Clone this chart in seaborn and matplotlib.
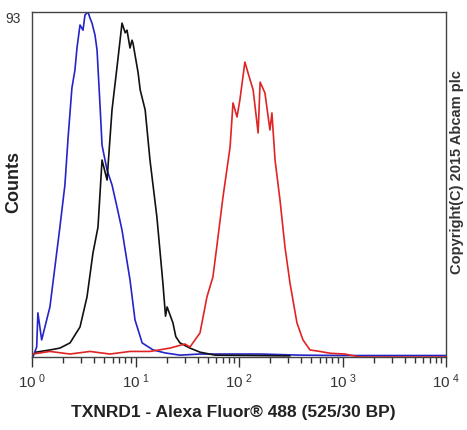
import numpy as np
import pandas as pd
import matplotlib
matplotlib.use('Agg')
import matplotlib.pyplot as plt
import seaborn as sns
from matplotlib.ticker import FixedLocator, LogLocator, NullFormatter

# Histogram traces (fluorescence intensity, counts)
blue_x = [1.02, 1.11, 1.14, 1.24, 1.49, 1.86, 2.08, 2.23, 2.43, 2.60, 2.72, 2.91,
          3.11, 3.25, 3.48, 3.63, 3.80, 4.06, 4.25, 4.54, 4.75, 5.31, 5.93, 6.63,
          7.41, 8.09, 8.85, 9.89, 11.6, 14.8, 19.3, 26.9, 42, 160, 389, 1000,
          3000, 10000]
blue_y = [0, 2.7, 11.9, 4.6, 13.5, 35, 46.4, 59, 72.5, 77.4, 83.3, 89.5,
          88.1, 92.2, 93, 91.4, 90, 86.8, 82.8, 67.9, 57.1, 50.4, 46.4, 40.4,
          34.2, 27.5, 20.8, 10, 3.8, 1.9, 1.1, 0.5, 0.8, 0.8, 0.5, 0.4,
          0.4, 0.4]

black_x = [1.09, 1.49, 1.86, 2.33, 2.91, 3.40, 3.88, 4.34, 4.75, 5.31, 5.93, 6.63,
           7.41, 7.95, 8.28, 8.85, 9.25, 9.46, 10.6, 11.1, 12.4, 13.8, 16.1, 18.4,
           19.5, 20.2, 23.0, 24.5, 26.9, 33.6, 42, 58.6, 311]
black_y = [1.3, 1.9, 2.4, 3.8, 8.1, 16.2, 28, 35, 53.1, 47.7, 66.6, 78.2,
           90, 87.4, 88.1, 83.3, 85.4, 84.6, 76.6, 72, 66.6, 53.1, 37.7, 19.9,
           11, 13.5, 9.2, 5.5, 3.8, 2.4, 1.3, 0.5, 0.3]

red_x = [1.02, 1.49, 2.33, 3.63, 5.67, 8.85, 13.8, 21.5, 30, 33.6, 42, 49,
         56, 61, 70, 82, 87.5, 95.7, 102, 114, 128, 137, 153, 160,
         178, 199, 208, 223, 249, 278, 311, 363, 415, 485, 605, 760,
         1050, 1480, 10000]
red_y = [0.8, 1.5, 0.8, 1.5, 0.8, 1.5, 1.5, 2.4, 3.5, 2.7, 6.5, 16.2,
         21.6, 29.7, 43.1, 56.6, 68.5, 64.7, 69.3, 79.5, 74.7, 72, 60.4, 74.1,
         71.2, 61.2, 65.8, 53.1, 42.3, 29.7, 19.9, 9.2, 4.6, 1.9, 1.5, 1.0,
         0.8, 0.0, 0.0]

x_ticks = [1, 10, 100, 1000, 10000]
x_tick_labels = [r'$\mathregular{10^{\ 0}}$', r'$\mathregular{10^{\ 1}}$',
                 r'$\mathregular{10^{\ 2}}$', r'$\mathregular{10^{\ 3}}$',
                 r'$\mathregular{10^{\ 4}}$']
y_max = 93

sns.set_style('white')
plt.rcParams['font.family'] = ['Liberation Sans', 'DejaVu Sans']

fig = plt.figure(figsize=(4.67, 4.30), dpi=100)
ax = fig.add_axes([32 / 467, 1 - 357 / 430, 414 / 467, 345 / 430])

traces = [(blue_x, blue_y, '#2424c8'), (black_x, black_y, '#111111'), (red_x, red_y, '#e02424')]
for xs, ys, col in traces:
    df = pd.DataFrame({'x': xs, 'y': ys})
    sns.lineplot(data=df, x='x', y='y', ax=ax, color=col, linewidth=1.2,
                 estimator=None, sort=False)

ax.set_xscale('log')
ax.set_xlim(1, 10000)
ax.set_ylim(0, y_max)

ax.xaxis.set_major_locator(FixedLocator(x_ticks))
ax.set_xticklabels(x_tick_labels)
ax.xaxis.set_minor_locator(LogLocator(base=10, subs=np.arange(2, 10)))
ax.xaxis.set_minor_formatter(NullFormatter())
ax.tick_params(axis='x', which='major', direction='out', length=7, width=1,
               color='#333333', labelsize=11, labelcolor='#333333', pad=4, bottom=True)
ax.tick_params(axis='x', which='minor', direction='out', length=4, width=1,
               color='#333333', bottom=True)

ax.set_yticks([y_max])
ax.set_yticklabels(['93'])
ax.tick_params(axis='y', length=0, labelsize=10, labelcolor='#333333', pad=8)
ax.yaxis.get_majorticklabels()[0].set_verticalalignment('top')

for sp in ax.spines.values():
    sp.set_color('#444444')
    sp.set_linewidth(1.0)

ax.set_xlabel('')
ax.set_ylabel('')
fig.text(14 / 467, 1 - 182 / 430, 'Counts', rotation=90, ha='center', va='center',
         fontsize=13, fontweight='bold', color='#222222')
fig.text(233 / 467, 1 - 413 / 430, 'TXNRD1 - Alexa Fluor\u00ae 488 (525/30 BP)',
         ha='center', va='center', fontsize=12.5, fontweight='bold', color='#222222')
fig.text(457 / 467, 1 - 172 / 430, 'Copyright(C) 2015 Abcam plc', rotation=90,
         ha='center', va='center', fontsize=10.5, fontweight='bold', color='#333333')

fig.savefig('out.png', dpi=100)
